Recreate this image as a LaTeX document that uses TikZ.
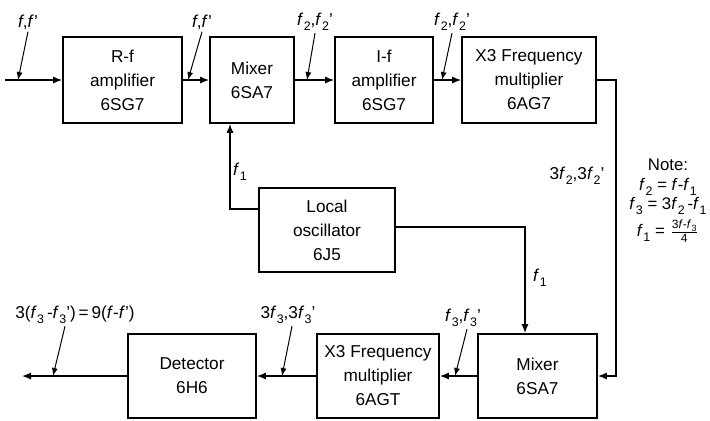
\documentclass[tikz,border=0pt]{standalone}
\usepackage{fontspec}
\setmainfont{Liberation Sans}
\usetikzlibrary{arrows.meta}
\newcommand{\fq}[1]{\textit{f}\kern.2pt\raisebox{-.55ex}{\fontsize{6.2}{7}\selectfont #1}}

\begin{document}
\begin{tikzpicture}[x=0.5pt,y=-0.5pt,
    stage/.style={draw,line width=0.9pt,align=center,inner sep=0pt,font=\fontsize{8.6}{12}\selectfont},
    wire/.style={line width=0.7pt,-{Latex[length=4.5pt,width=3.6pt]}},
    tag/.style={inner sep=1pt,font=\fontsize{8.6}{10}\selectfont},
    pointer/.style={line width=0.5pt,-{Latex[length=4pt,width=3pt]}}]
    \useasboundingbox (0,0) rectangle (710,420);
    \node[stage,minimum width=59.5pt,minimum height=43pt] (rf) at (122.5,80) {R-f\\amplifier\\6SG7};
    \node[stage,minimum width=42pt,minimum height=43pt] (mix1) at (252,80) {Mixer\\6SA7};
    \node[stage,minimum width=49pt,minimum height=43pt] (if) at (384,80) {I-f\\amplifier\\6SG7};
    \node[stage,minimum width=67pt,minimum height=43pt] (x3a) at (529,80) {X3 Frequency\\multiplier\\6AG7};
    \node[stage,minimum width=68pt,minimum height=42pt] (lo) at (327,230) {Local\\oscillator\\6J5};
    \node[stage,minimum width=64pt,minimum height=42pt] (det) at (192,376) {Detector\\6H6};
    \node[stage,minimum width=61pt,minimum height=42pt] (x3b) at (378,376) {X3 Frequency\\multiplier\\6AGT};
    \node[stage,minimum width=59.5pt,minimum height=42pt] (mix2) at (537.5,376) {Mixer\\6SA7};
    \coordinate (src) at (5,80);
    \coordinate (sink) at (22,376);
    \draw[wire] (src) -- (rf.west);
    \draw[wire] (rf) -- (mix1);
    \draw[wire] (mix1) -- (if);
    \draw[wire] (if) -- (x3a);
    \draw[wire] (x3a.east) -- ++(19,0) |- (mix2.east);
    \draw[wire] (mix2) -- (x3b);
    \draw[wire] (x3b) -- (det);
    \draw[wire] (det) -- (sink);
    \draw[wire] ([yshift=10.5pt]lo.west) -| ([xshift=-11pt]mix1.south);
    \draw[wire] ([yshift=1.5pt]lo.east) -| ([xshift=-6.25pt]mix2.north);
    % signal labels
    \node[tag] (tin) at (28,22) {\textit{f},\textit{f}'};
    \node[tag] (trf) at (202,22) {\textit{f},\textit{f}'};
    \node[tag] (tmx) at (315,22) {\fq2,\fq2'};
    \node[tag] (tif) at (452,22) {\fq2,\fq2'};
    \node[tag] (tx3a) at (577,176) {3\fq2,3\fq2'};
    \node[tag] (tlo1) at (240,172) {\fq1};
    \node[tag] (tlo2) at (540,278) {\fq1};
    \node[tag] (tmx2) at (463,318) {\fq3,\fq3'};
    \node[tag] (tx3b) at (288,315) {3\fq3,3\fq3'};
    \node[tag] (tout) at (75,315) {3(\fq3\,-\fq3')\,=\,9(\textit{f}-\textit{f}')};
    \coordinate (pin) at (18,80);
    \coordinate (prf) at (188,80);
    \coordinate (pmx) at (307,80);
    \coordinate (pif) at (442,80);
    \coordinate (pmx2) at (455,376);
    \coordinate (px3b) at (282,376);
    \coordinate (pout) at (53,376);
    \draw[pointer] (tin.south) -- (pin);
    \draw[pointer] (trf.south) -- (prf);
    \draw[pointer] (tmx.south) -- (pmx);
    \draw[pointer] (tif.south) -- (pif);
    \draw[pointer] ([xshift=2pt]tmx2.south) -- (pmx2);
    \draw[pointer] ([xshift=2pt]tx3b.south) -- (px3b);
    \draw[pointer] ([xshift=-5pt]tout.south) -- (pout);
    \node[align=center,font=\fontsize{8.4}{9.8}\selectfont] (note) at (668,201)
      {Note:\\ \fq2 = \textit{f}-\fq1\\ \fq3 = 3\fq2\,-\fq1\\[1.5pt]
       \fq1 = $\frac{\mbox{\fontsize{6}{6}\selectfont 3\textit{f}-\textit{f}\kern.2pt\raisebox{-.4ex}{\fontsize{4.5}{5}\selectfont 3}}}{\mbox{\fontsize{6}{6}\selectfont 4}}$};
\end{tikzpicture}
\end{document}
